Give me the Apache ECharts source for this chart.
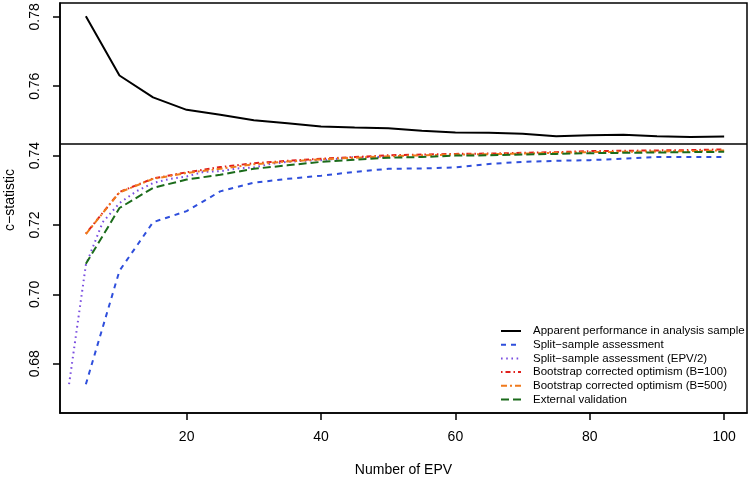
<!DOCTYPE html>
<html>
<head>
<meta charset="utf-8">
<script src="https://cdn.jsdelivr.net/npm/echarts@6/dist/echarts.min.js"></script>
<style>
html,body{margin:0;padding:0;background:#fff;}
#chart{width:750px;height:477px;}
</style>
</head>
<body>
<div id="chart"></div>
<script>
// ---- data ----
const epv = [5,10,15,20,25,30,35,40,45,50,55,60,65,70,75,80,85,90,95,100];
const epvHalf = [2.5,5,7.5,10,12.5,15,17.5,20,22.5,25,27.5,30,32.5,35,37.5,40,42.5,45,47.5,50];
const apparent = [0.7802,0.7631,0.7568,0.7532,0.7518,0.7502,0.7493,0.7484,0.7481,0.7479,0.7472,0.7467,0.7466,0.7463,0.7456,0.7459,0.7460,0.7456,0.7454,0.7455];
const splitSample = [0.6741,0.7068,0.7208,0.7240,0.7297,0.7322,0.7333,0.7342,0.7353,0.7362,0.7363,0.7366,0.7376,0.7382,0.7385,0.7387,0.7391,0.7396,0.7396,0.7396];
const splitHalf = [0.6741,0.7085,0.7208,0.7263,0.7297,0.7321,0.7333,0.7340,0.7353,0.7355,0.7363,0.7366,0.7376,0.7382,0.7385,0.7387,0.7391,0.7396,0.7396,0.7396];
const boot100 = [0.7175,0.7295,0.7334,0.7352,0.7367,0.7378,0.7385,0.7391,0.7396,0.7401,0.7403,0.7405,0.7406,0.7408,0.7410,0.7413,0.7414,0.7415,0.7416,0.7418];
const boot500 = [0.7174,0.7294,0.7333,0.7350,0.7362,0.7375,0.7383,0.7389,0.7394,0.7398,0.7401,0.7403,0.7404,0.7406,0.7408,0.7410,0.7411,0.7412,0.7413,0.7415];
const external = [0.7088,0.7249,0.7307,0.7331,0.7345,0.7362,0.7372,0.7382,0.7388,0.7394,0.7396,0.7400,0.7401,0.7403,0.7405,0.7407,0.7408,0.7409,0.7410,0.7411];
const panelSplit = 0.7434;
const xTicks = [20,40,60,80,100];
const yTicks = [0.68,0.70,0.72,0.74,0.76,0.78];
const names = [
  'Apparent performance in analysis sample',
  'Split\u2212sample assessment',
  'Split\u2212sample assessment (EPV/2)',
  'Bootstrap corrected optimism (B=100)',
  'Bootstrap corrected optimism (B=500)',
  'External validation'
];

const pairs = (xs, ys) => xs.map((x, i) => [x, ys[i]]);
const FONT = 'Liberation Sans, Arial, Helvetica, sans-serif';

const chart = echarts.init(document.getElementById('chart'), null, {renderer: 'canvas'});

function lineSeries(name, xs, ys, color, type, width, z) {
  return {
    name: name, type: 'line', data: pairs(xs, ys), symbol: 'none', showSymbol: false, z: z,
    lineStyle: {color: color, width: width, type: type},
    itemStyle: {color: color},
    silent: true
  };
}

const series = [
  lineSeries(names[0], epv, apparent, '#000000', 'solid', 2, 2),
  lineSeries(names[1], epv, splitSample, '#2f4fdc', [5, 5], 2, 3),
  lineSeries(names[2], epvHalf, splitHalf, '#7a4ee0', [1.6, 3.6], 2, 4),
  lineSeries(names[3], epv, boot100, '#e0201c', [1.5, 3, 5, 3], 2, 5),
  lineSeries(names[4], epv, boot500, '#f07a1c', [6, 3, 2, 3], 2, 6),
  lineSeries(names[5], epv, external, '#1b6b1b', [8, 4], 2, 7)
];
series[0].markLine = {
  silent: true, symbol: 'none', precision: 4, label: {show: false},
  lineStyle: {color: '#000', type: 'solid', width: 1.5},
  emphasis: {disabled: true},
  data: [{yAxis: panelSplit}]
};

chart.setOption({
  animation: false,
  backgroundColor: '#ffffff',
  grid: {left: 60, right: 3, top: 3, bottom: 64, outerBoundsMode: 'none', containLabel: false,
    show: true, borderColor: '#000', borderWidth: 1.5, backgroundColor: 'transparent'},
  xAxis: {
    type: 'value', min: 1.15, max: 103.4,
    name: 'Number of EPV', nameLocation: 'middle', nameGap: 50,
    nameTextStyle: {fontFamily: FONT, fontSize: 14, color: '#000'},
    axisLine: {show: true, onZero: false, lineStyle: {color: '#000', width: 1.5}},
    axisTick: {show: true, customValues: xTicks, length: 7, lineStyle: {color: '#000', width: 1.5}},
    axisLabel: {show: true, customValues: xTicks, fontFamily: FONT, fontSize: 14, color: '#000', margin: 17},
    splitLine: {show: false}
  },
  yAxis: {
    type: 'value', min: 0.6658, max: 0.784,
    axisLine: {show: true, onZero: false, lineStyle: {color: '#000', width: 1.5}},
    axisTick: {show: true, customValues: yTicks, length: 7, lineStyle: {color: '#000', width: 1.5}},
    axisLabel: {show: true, customValues: yTicks, rotate: 90, fontFamily: FONT, fontSize: 14, color: '#000', margin: 18,
      formatter: v => v.toFixed(2)},
    splitLine: {show: false}
  },
  legend: {
    show: true,
    data: names, orient: 'vertical', left: 495, top: 320,
    itemWidth: 20, itemHeight: 10, itemGap: 1.7,
    itemStyle: {opacity: 0},
    textStyle: {fontFamily: FONT, fontSize: 11.5, color: '#000', padding: [0, 0, 0, 7]},
    selectedMode: false
  },
  graphic: [{
    type: 'text', x: 10, y: 200, rotation: Math.PI / 2,
    style: {text: 'c\u2212statistic', fontFamily: FONT, fontSize: 14, fill: '#000', align: 'center', verticalAlign: 'middle'}
  }],
  series: series
});
</script>
</body>
</html>
